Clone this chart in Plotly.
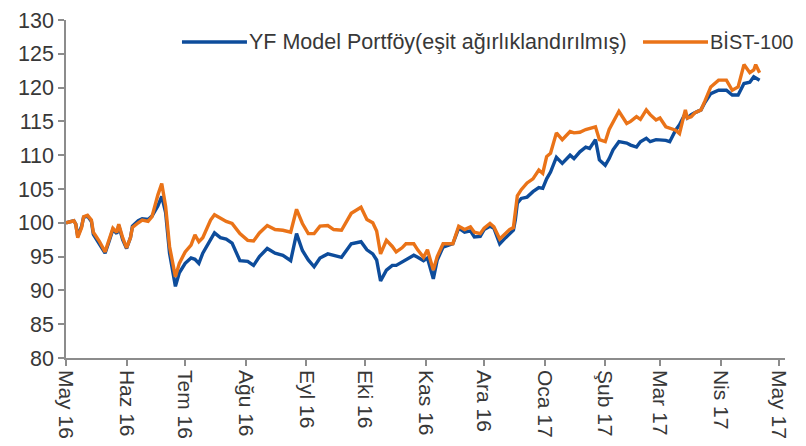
import plotly.graph_objects as go

dates = [
    "2016-05-01", "2016-05-05", "2016-05-06", "2016-05-07", "2016-05-09", "2016-05-10", "2016-05-12", "2016-05-14",
    "2016-05-15", "2016-05-18", "2016-05-21", "2016-05-23", "2016-05-25", "2016-05-27", "2016-05-28", "2016-05-30",
    "2016-06-01", "2016-06-03", "2016-06-04", "2016-06-07", "2016-06-09", "2016-06-12", "2016-06-14", "2016-06-17",
    "2016-06-19", "2016-06-21", "2016-06-23", "2016-06-26", "2016-06-28",
    "2016-07-01", "2016-07-04", "2016-07-06", "2016-07-08", "2016-07-10", "2016-07-14", "2016-07-16", "2016-07-19",
    "2016-07-22", "2016-07-25", "2016-07-29",
    "2016-08-02", "2016-08-05", "2016-08-08", "2016-08-12", "2016-08-16", "2016-08-20", "2016-08-24", "2016-08-27",
    "2016-08-30",
    "2016-09-02", "2016-09-05", "2016-09-08", "2016-09-12", "2016-09-15", "2016-09-19", "2016-09-24", "2016-09-29",
    "2016-10-02", "2016-10-05", "2016-10-07", "2016-10-09", "2016-10-12", "2016-10-15", "2016-10-17", "2016-10-20",
    "2016-10-22", "2016-10-26", "2016-10-28", "2016-10-31",
    "2016-11-02", "2016-11-05", "2016-11-07", "2016-11-10", "2016-11-15", "2016-11-18", "2016-11-21", "2016-11-24",
    "2016-11-26", "2016-11-29",
    "2016-12-01", "2016-12-04", "2016-12-06", "2016-12-09", "2016-12-12", "2016-12-14", "2016-12-16", "2016-12-17",
    "2016-12-18", "2016-12-20", "2016-12-23", "2016-12-26", "2016-12-29", "2016-12-31",
    "2017-01-02", "2017-01-04", "2017-01-07", "2017-01-10", "2017-01-14", "2017-01-16", "2017-01-19", "2017-01-22",
    "2017-01-24", "2017-01-27", "2017-01-29",
    "2017-02-01", "2017-02-03", "2017-02-05", "2017-02-08", "2017-02-12", "2017-02-14", "2017-02-17", "2017-02-19",
    "2017-02-22", "2017-02-24", "2017-02-27",
    "2017-03-01", "2017-03-04", "2017-03-06", "2017-03-09", "2017-03-11", "2017-03-14", "2017-03-15", "2017-03-17",
    "2017-03-19", "2017-03-22", "2017-03-24", "2017-03-27", "2017-03-31",
    "2017-04-04", "2017-04-07", "2017-04-10", "2017-04-13", "2017-04-16", "2017-04-18", "2017-04-19", "2017-04-21",
]

model_portfoy = [
    100.0, 100.3, 99.8, 98.0, 99.5, 100.8, 101.0, 100.2, 98.3, 97.0, 95.5, 97.2, 99.0, 98.4, 99.6, 97.5,
    96.2, 97.8, 99.5, 100.3, 100.6, 100.5, 101.0, 102.5, 103.9, 101.5, 95.5, 90.6, 92.6,
    94.0, 94.8, 94.6, 94.0, 95.5, 97.5, 98.5, 97.8, 97.6, 97.0, 94.4,
    94.3, 93.7, 95.0, 96.2, 95.5, 95.2, 94.4, 98.4, 95.9,
    94.5, 93.5, 94.8, 95.4, 95.2, 94.9, 96.9, 97.2,
    96.0, 95.4, 94.5, 91.4, 93.0, 93.7, 93.7, 94.2, 94.4, 95.2, 94.9, 94.4,
    94.8, 91.7, 94.5, 96.4, 96.9, 99.2, 98.6, 98.8, 97.9, 98.0,
    99.0, 99.5, 99.2, 96.9, 97.8, 98.4, 98.9, 100.5, 102.9, 103.6, 103.8, 104.6, 105.2, 105.1,
    106.5, 107.5, 109.7, 108.8, 110.0, 109.5, 110.5, 111.2, 111.0, 112.3, 109.3,
    108.5, 109.5, 110.8, 112.0, 111.8, 111.5, 111.2, 112.0, 112.5, 112.0, 112.3,
    112.3, 112.2, 112.0, 113.7, 114.5, 116.2, 115.5, 116.0, 116.3, 116.7, 117.8, 119.1, 119.6,
    119.6, 118.9, 118.9, 120.6, 120.8, 121.6, 121.4, 121.1,
]

bist100 = [
    100.0, 100.3, 99.8, 97.8, 99.3, 100.9, 101.1, 100.4, 98.6, 97.3, 95.7, 97.5, 99.2, 98.6, 99.8, 97.8,
    96.3, 97.8, 99.3, 100.0, 100.4, 100.2, 100.9, 104.1, 105.8, 102.4, 96.5, 92.0, 94.0,
    95.7, 96.7, 98.2, 97.2, 97.8, 100.4, 101.2, 100.7, 100.2, 99.9, 98.4,
    97.4, 97.3, 98.5, 99.6, 99.0, 98.9, 98.6, 102.0, 99.9,
    98.4, 98.4, 99.5, 99.6, 99.0, 98.9, 101.4, 102.3,
    100.5, 100.0, 98.8, 95.4, 97.4, 96.5, 95.7, 96.3, 96.9, 96.9, 96.0, 94.9,
    96.0, 93.0, 95.0, 96.9, 96.9, 99.5, 99.0, 99.4, 98.6, 98.4,
    99.2, 99.9, 99.4, 97.6, 98.4, 99.0, 99.3, 101.4, 104.0, 104.9, 105.9, 106.5, 107.8, 107.3,
    109.8, 110.3, 113.3, 112.3, 113.5, 113.3, 113.4, 113.8, 114.0, 114.2, 112.3,
    112.0, 113.8, 114.9, 116.5, 114.7, 115.0, 115.7, 115.3, 116.7, 116.0, 115.2,
    115.5, 114.2, 114.0, 113.7, 113.2, 116.7, 115.5, 115.7, 116.3, 116.7, 118.0, 120.1, 121.1,
    121.1, 119.6, 120.1, 123.4, 122.2, 122.6, 123.4, 122.2,
]

tick_dates = ["2016-05-01", "2016-06-01", "2016-07-01", "2016-08-01", "2016-09-01", "2016-10-01", "2016-11-01",
              "2016-12-01", "2017-01-01", "2017-02-01", "2017-03-01", "2017-04-01", "2017-05-01"]
tick_labels = ["May 16", "Haz 16", "Tem 16", "Ağu 16", "Eyl 16", "Eki 16", "Kas 16",
               "Ara 16", "Oca 17", "Şub 17", "Mar 17", "Nis 17", "May 17"]

name_model = "YF Model Portföy(eşit ağırlıklandırılmış)"
name_bist = "BİST-100"

BLUE = "#0D4C9B"
ORANGE = "#EA7318"
FONT = "Liberation Sans, Arial, sans-serif"
TXT = "#383838"
AX = "#8C8C8C"

fig = go.Figure()
fig.add_trace(go.Scatter(x=dates, y=model_portfoy, mode="lines", name=name_model,
                         line=dict(color=BLUE, width=3.4)))
fig.add_trace(go.Scatter(x=dates, y=bist100, mode="lines", name=name_bist,
                         line=dict(color=ORANGE, width=3.4)))

# manual legend (swatches + text in paper coordinates)
legend_items = [(0.1613, 0.2517, BLUE, name_model, 21.5), (0.8025, 0.8929, ORANGE, name_bist, 20)]
for x0, x1, col, txt, fs in legend_items:
    fig.add_shape(type="line", xref="paper", yref="paper", x0=x0, x1=x1, y0=0.935, y1=0.935,
                  line=dict(color=col, width=3.5))
    fig.add_annotation(xref="paper", yref="paper", x=x1 + 0.002, y=0.935, text=txt, showarrow=False,
                       xanchor="left", yanchor="middle", borderpad=0,
                       font=dict(family=FONT, size=fs, color=TXT))

fig.update_layout(
    width=806, height=446,
    margin=dict(l=66, r=21, t=20, b=88, autoexpand=False),
    paper_bgcolor="white", plot_bgcolor="white",
    showlegend=False,
    font=dict(family=FONT, size=21, color=TXT),
)
fig.update_xaxes(type="date", range=["2016-05-01", "2017-05-04"], automargin=False,
                 tickvals=tick_dates, ticktext=tick_labels, tickangle=90,
                 ticks="outside", ticklen=6, tickcolor=AX, tickwidth=1.5,
                 showline=True, linecolor=AX, linewidth=1.5, showgrid=False, zeroline=False,
                 tickfont=dict(family=FONT, size=21, color=TXT))
fig.update_yaxes(range=[80, 130], dtick=5, tick0=80, automargin=False,
                 ticks="outside", ticklen=6, tickcolor=AX, tickwidth=1.5,
                 showline=True, linecolor=AX, linewidth=1.5, showgrid=False, zeroline=False,
                 tickfont=dict(family=FONT, size=21.5, color=TXT))

fig.write_html("out.html", config={"displayModeBar": False},
               post_script="document.body.style.margin='0';document.body.style.overflow='hidden';")
